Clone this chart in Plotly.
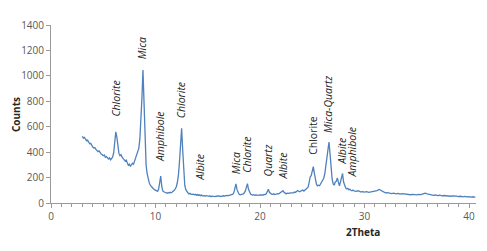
import plotly.graph_objects as go

# ---- data (2Theta vs Counts) ----
two_theta = [
    3.0, 3.1, 3.2, 3.3, 3.4, 3.5, 3.6, 3.7, 3.8, 3.9,
    4.0, 4.1, 4.2, 4.3, 4.4, 4.5, 4.6, 4.7, 4.8, 4.9,
    5.0, 5.1, 5.2, 5.3, 5.4, 5.5, 5.6, 5.7, 5.8, 5.9,
    6.0, 6.1, 6.2, 6.3, 6.4, 6.5, 6.6, 6.7, 6.8, 6.9,
    7.0, 7.1, 7.2, 7.3, 7.4, 7.5, 7.6, 7.7, 7.8, 7.9,
    8.0, 8.1, 8.2, 8.3, 8.4, 8.5, 8.6, 8.7, 8.8, 8.9,
    9.0, 9.1, 9.2, 9.3, 9.4, 9.5, 9.6, 9.7, 9.8, 9.9,
    10.0, 10.1, 10.2, 10.3, 10.4, 10.5, 10.6, 10.7, 10.8, 10.9,
    11.0, 11.1, 11.2, 11.3, 11.4, 11.5, 11.6, 11.7, 11.8, 11.9,
    12.0, 12.1, 12.2, 12.3, 12.4, 12.5, 12.6, 12.7, 12.8, 12.9,
    13.0, 13.1, 13.2, 13.3, 13.4, 13.5, 13.6, 13.7, 13.8, 13.9,
    14.0, 14.1, 14.2, 14.3, 14.4, 14.5, 14.6, 14.7, 14.8, 14.9,
    15.0, 15.1, 15.2, 15.3, 15.4, 15.5, 15.6, 15.7, 15.8, 15.9,
    16.0, 16.1, 16.2, 16.3, 16.4, 16.5, 16.6, 16.7, 16.8, 16.9,
    17.0, 17.1, 17.2, 17.3, 17.4, 17.5, 17.6, 17.7, 17.8, 17.9,
    18.0, 18.1, 18.2, 18.3, 18.4, 18.5, 18.6, 18.7, 18.8, 18.9,
    19.0, 19.1, 19.2, 19.3, 19.4, 19.5, 19.6, 19.7, 19.8, 19.9,
    20.0, 20.1, 20.2, 20.3, 20.4, 20.5, 20.6, 20.7, 20.8, 20.9,
    21.0, 21.1, 21.2, 21.3, 21.4, 21.5, 21.6, 21.7, 21.8, 21.9,
    22.0, 22.1, 22.2, 22.3, 22.4, 22.5, 22.6, 22.7, 22.8, 22.9,
    23.0, 23.1, 23.2, 23.3, 23.4, 23.5, 23.6, 23.7, 23.8, 23.9,
    24.0, 24.1, 24.2, 24.3, 24.4, 24.5, 24.6, 24.7, 24.8, 24.9,
    25.0, 25.1, 25.2, 25.3, 25.4, 25.5, 25.6, 25.7, 25.8, 25.9,
    26.0, 26.1, 26.2, 26.3, 26.4, 26.5, 26.6, 26.7, 26.8, 26.9,
    27.0, 27.1, 27.2, 27.3, 27.4, 27.5, 27.6, 27.7, 27.8, 27.9,
    28.0, 28.1, 28.2, 28.3, 28.4, 28.5, 28.6, 28.7, 28.8, 28.9,
    29.0, 29.2, 29.4, 29.6, 29.8, 30.0, 30.2, 30.4, 30.6, 30.8,
    31.0, 31.2, 31.4, 31.6, 31.8, 32.0, 32.2, 32.4, 32.6, 32.8,
    33.0, 33.2, 33.4, 33.6, 33.8, 34.0, 34.2, 34.4, 34.6, 34.8,
    35.0, 35.2, 35.4, 35.6, 35.8, 36.0, 36.2, 36.4, 36.6, 36.8,
    37.0, 37.2, 37.4, 37.6, 37.8, 38.0, 38.2, 38.4, 38.6, 38.8,
    39.0, 39.2, 39.4, 39.6, 39.8, 40.0, 40.2, 40.4, 40.6,
]

counts = [
    525, 510, 516, 498, 490, 494, 475, 466, 470, 452,
    440, 432, 436, 421, 415, 404, 410, 392, 386, 380,
    372, 378, 360, 365, 352, 346, 355, 340, 350, 362,
    395, 470, 560, 520, 430, 390, 372, 380, 360, 352,
    345, 330, 338, 310, 296, 305, 290, 300, 312, 305,
    330, 348, 368, 395, 430, 500, 620, 820, 1045, 760,
    430, 300, 230, 180, 160, 140, 128, 118, 112, 105,
    100, 96, 92, 110, 160, 212, 130, 95, 88, 85,
    80, 76, 82, 78, 84, 80, 86, 92, 100, 112,
    130, 165, 225, 330, 480, 587, 420, 230, 140, 105,
    88, 80, 72, 76, 68, 72, 70, 64, 68, 62,
    66, 60, 64, 58, 62, 56, 60, 58, 54, 58,
    55, 52, 57, 50, 54, 52, 56, 50, 53, 55,
    52, 56, 50, 54, 52, 57, 55, 58, 56, 60,
    58, 62, 60, 64, 70, 82, 118, 150, 105, 78,
    68, 64, 66, 70, 72, 80, 95, 125, 152, 108,
    80, 70, 66, 62, 65, 60, 64, 62, 66, 60,
    64, 62, 66, 63, 68, 66, 72, 88, 108, 84,
    74, 70, 68, 72, 66, 70, 68, 74, 72, 78,
    82, 90, 96, 84, 76, 72, 78, 74, 76, 80,
    78, 82, 80, 86, 84, 90, 98, 92, 88, 94,
    96, 102, 94, 100, 106, 112, 125, 160, 205, 215,
    250, 286, 235, 180, 148, 135, 140, 136, 150, 160,
    175, 195, 230, 290, 360, 440, 480, 390, 270, 190,
    150, 140, 165, 170, 198, 150, 135, 165, 205, 232,
    165, 130, 118, 110, 115, 105, 108, 100, 96, 102,
    95, 92, 96, 88, 90, 86, 90, 84, 88, 86,
    92, 98, 106, 96, 86, 80, 82, 76, 74, 78,
    72, 75, 70, 73, 70, 67, 70, 65, 68, 66,
    64, 68, 66, 72, 78, 72, 66, 62, 60, 63,
    58, 61, 56, 59, 55, 57, 53, 56, 52, 54,
    51, 53, 49, 52, 48, 50, 46, 49, 45,
]

# peak labels
peak_labels = ["Chlorite", "Mica", "Amphibole", "Chlorite", "Albite", "Mica",
               "Chlorite", "Quartz", "Albite", "Chlorite", "Mica-Quartz",
               "Albite", "Amphibole"]
peak_italic = [True, True, True, True, True, True, True, True, True, False,
               True, True, True]
label_x = [6.2, 8.7, 10.5, 12.4, 14.3, 17.7, 18.8, 20.8, 22.2, 25.0, 26.5, 27.9, 28.8]
label_y = [662, 1114, 308, 648, 158, 211, 226, 196, 173, 361, 534, 286, 188]

x_ticks = [0, 10, 20, 30, 40]
y_ticks = [0, 200, 400, 600, 800, 1000, 1200, 1400]

FONT = "Open Sans"
AXIS_COLOR = "#9a9a9a"
TICK_FONT_COLOR = "#595959"

fig = go.Figure()
fig.add_trace(go.Scatter(
    x=two_theta, y=counts, mode="lines",
    line=dict(color="#4f81bd", width=1.3),
    showlegend=False, hoverinfo="x+y",
))

for lab, it, lx, ly in zip(peak_labels, peak_italic, label_x, label_y):
    fig.add_annotation(
        x=lx, y=ly, xref="x", yref="y",
        text=f"<i>{lab}</i>" if it else lab,
        textangle=-90, showarrow=False,
        xanchor="center", yanchor="bottom",
        font=dict(family=FONT, size=10.5, color="#262626"),
    )

fig.add_annotation(x=-0.082, y=0.495, xref="paper", yref="paper",
                   text="<b>Counts</b>", textangle=-90, showarrow=False,
                   xanchor="center", yanchor="middle",
                   font=dict(family=FONT, size=10, color="#262626"))
fig.add_annotation(x=0.734, y=-0.165, xref="paper", yref="paper",
                   text="<b>2Theta</b>", showarrow=False,
                   xanchor="center", yanchor="middle",
                   font=dict(family=FONT, size=10, color="#262626"))

# the page body adds an 8px offset, so the figure is 8px smaller and margins shifted
fig.update_layout(
    width=479, height=243,
    margin=dict(l=43, r=11, t=9, b=48),
    paper_bgcolor="white", plot_bgcolor="white",
    font=dict(family=FONT, size=10, color=TICK_FONT_COLOR),
)
fig.update_xaxes(
    range=[0, 40.67], tickvals=x_ticks, showgrid=False, zeroline=False,
    showline=True, linecolor=AXIS_COLOR, linewidth=1,
    ticks="outside", ticklen=4, tickcolor=AXIS_COLOR,
    minor=dict(dtick=1, ticks="outside", ticklen=3, tickcolor=AXIS_COLOR),
    tickfont=dict(family=FONT, size=10, color=TICK_FONT_COLOR),
)
fig.update_yaxes(
    range=[0, 1400], tickvals=y_ticks, showgrid=False, zeroline=False,
    showline=True, linecolor=AXIS_COLOR, linewidth=1,
    ticks="outside", ticklen=4, tickcolor=AXIS_COLOR,
    tickfont=dict(family=FONT, size=10, color=TICK_FONT_COLOR),
)

fig.write_html("out.html")
